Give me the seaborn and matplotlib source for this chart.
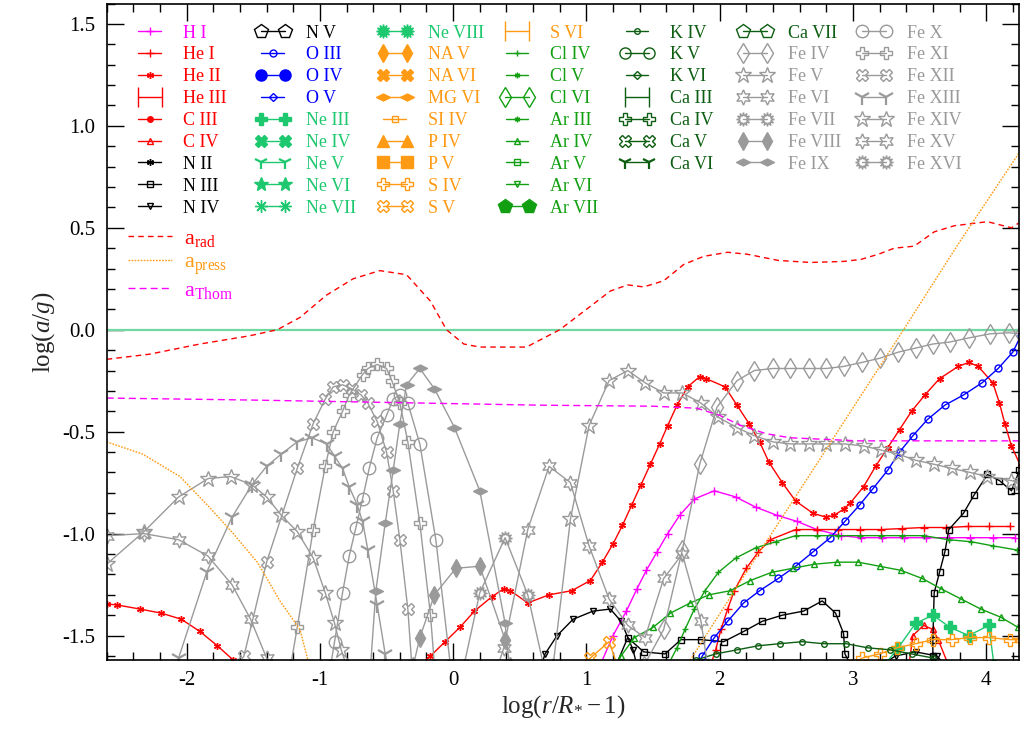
import numpy as np
import matplotlib
matplotlib.use("Agg")
import matplotlib.pyplot as plt
import seaborn as sns
from matplotlib.lines import Line2D
from matplotlib.legend_handler import HandlerLine2D
from matplotlib.ticker import MultipleLocator, FormatStrFormatter

# ---- data: (log(r/R*-1), log(a/g)) pairs ----
# values at -2.0 stand for the curve running below the frame
h1 = [(1.10, -1.65), (1.20, -1.50), (1.30, -1.38), (1.38, -1.27), (1.45, -1.18), (1.53, -1.09),
      (1.61, -1.00), (1.70, -0.91), (1.81, -0.83), (1.96, -0.79), (2.12, -0.82), (2.27, -0.87),
      (2.43, -0.91), (2.58, -0.94), (2.73, -0.98), (2.91, -1.01), (3.06, -1.02), (3.22, -1.02),
      (3.38, -1.02), (3.55, -1.02), (3.72, -1.02), (3.88, -1.02), (4.05, -1.02), (4.22, -1.02)]
he1 = [(1.93, -1.65), (1.97, -1.57), (2.01, -1.47), (2.06, -1.37), (2.11, -1.28), (2.20, -1.17),
       (2.29, -1.09), (2.38, -1.03), (2.57, -0.98), (2.73, -0.98), (2.89, -0.98), (3.05, -0.98),
       (3.21, -0.98), (3.37, -0.975), (3.53, -0.97), (3.70, -0.97), (3.86, -0.965), (4.02, -0.965),
       (4.18, -0.965)]
he2 = [(-2.60, -1.345), (-2.52, -1.35), (-2.35, -1.37), (-2.19, -1.39), (-2.04, -1.42), (-1.90, -1.48),
       (-1.77, -1.55), (-1.65, -1.62), (-0.90, -2.0), (-0.17, -1.60), (-0.06, -1.53), (0.05, -1.46),
       (0.16, -1.38), (0.29, -1.31), (0.38, -1.27), (0.43, -1.28), (0.56, -1.34), (0.72, -1.30),
       (0.89, -1.28), (1.03, -1.23), (1.12, -1.14), (1.20, -1.05), (1.27, -0.96), (1.34, -0.86),
       (1.41, -0.76), (1.48, -0.66), (1.55, -0.56), (1.61, -0.47), (1.68, -0.37), (1.76, -0.28),
       (1.85, -0.23), (1.90, -0.24), (2.04, -0.28), (2.13, -0.37), (2.22, -0.46), (2.30, -0.55),
       (2.37, -0.65), (2.47, -0.75), (2.57, -0.84), (2.70, -0.90), (2.80, -0.92), (2.86, -0.91),
       (2.93, -0.88), (2.98, -0.85), (3.08, -0.77), (3.17, -0.67), (3.26, -0.58), (3.35, -0.49),
       (3.44, -0.40), (3.54, -0.32), (3.65, -0.24), (3.79, -0.18), (3.87, -0.16), (3.94, -0.18),
       (4.05, -0.26), (4.10, -0.36), (4.14, -0.46), (4.19, -0.57), (4.26, -0.67)]
c4 = [(3.42, -1.65), (3.45, -1.50), (3.53, -1.45), (3.60, -1.47), (3.64, -1.52), (3.72, -1.65)]
n3 = [(1.22, -1.65), (1.31, -1.51), (1.43, -1.58), (1.59, -1.59), (1.71, -1.52), (1.86, -1.52),
      (2.03, -1.53), (2.18, -1.48), (2.32, -1.43), (2.47, -1.40), (2.63, -1.38), (2.77, -1.33),
      (2.87, -1.39), (2.93, -1.49), (2.94, -1.59), (3.27, -2.0), (3.60, -1.60), (3.60, -1.52),
      (3.61, -1.29), (3.65, -1.19), (3.69, -1.09), (3.72, -0.98), (3.83, -0.90), (3.91, -0.81),
      (4.01, -0.71), (4.10, -0.74), (4.19, -0.79), (4.25, -0.69)]
n4 = [(0.66, -1.65), (0.69, -1.59), (0.78, -1.50), (0.90, -1.42), (1.05, -1.38), (1.18, -1.37),
      (1.26, -1.43), (1.35, -1.57), (1.38, -1.65), (2.30, -2.0), (3.20, -1.65), (3.32, -1.60),
      (3.47, -1.58), (3.63, -1.60), (3.70, -1.65)]
o3 = [(1.83, -1.65), (1.87, -1.60), (1.96, -1.51), (2.06, -1.43), (2.18, -1.34), (2.30, -1.28),
      (2.44, -1.22), (2.57, -1.16), (2.70, -1.09), (2.83, -1.02), (2.94, -0.94), (3.05, -0.86),
      (3.15, -0.78), (3.26, -0.69), (3.35, -0.60), (3.45, -0.52), (3.56, -0.44), (3.69, -0.37),
      (3.83, -0.32), (3.97, -0.26), (4.09, -0.19), (4.20, -0.11), (4.26, -0.03)]
ne3 = [(3.23, -1.65), (3.34, -1.56), (3.47, -1.44), (3.60, -1.40), (3.73, -1.46), (3.87, -1.50),
       (4.02, -1.45), (4.06, -1.65)]
s4 = [(2.98, -1.65), (3.07, -1.61), (3.20, -1.59), (3.33, -1.56), (3.47, -1.54), (3.60, -1.52),
      (3.74, -1.52), (3.88, -1.51), (4.02, -1.51), (4.18, -1.52), (4.26, -1.52)]
s5 = [(0.93, -1.66), (1.03, -1.61), (1.17, -1.53), (1.24, -1.66)]
cl4 = [(1.60, -1.66), (1.68, -1.56), (1.74, -1.47), (1.81, -1.37), (1.89, -1.28), (1.99, -1.19),
       (2.12, -1.12), (2.27, -1.07), (2.42, -1.04), (2.57, -1.01), (2.73, -1.01), (2.89, -1.01),
       (3.05, -1.01), (3.21, -1.01), (3.37, -1.01), (3.53, -1.01), (3.72, -1.03), (3.89, -1.04),
       (4.05, -1.06), (4.23, -1.08)]
ar4 = [(1.22, -1.65), (1.26, -1.60), (1.36, -1.51), (1.50, -1.46), (1.63, -1.39), (1.78, -1.34),
       (1.92, -1.30), (2.08, -1.28), (2.23, -1.23), (2.39, -1.19), (2.55, -1.17), (2.71, -1.15),
       (2.88, -1.14), (3.04, -1.14), (3.20, -1.16), (3.36, -1.18), (3.52, -1.22), (3.66, -1.27),
       (3.81, -1.32), (3.96, -1.37), (4.11, -1.41), (4.24, -1.46)]
k4 = [(1.78, -1.64), (1.82, -1.62), (1.97, -1.59), (2.13, -1.57), (2.29, -1.55), (2.45, -1.54),
      (2.62, -1.53), (2.78, -1.54), (2.95, -1.54), (3.11, -1.56), (3.28, -1.57), (3.44, -1.59),
      (3.60, -1.61), (3.70, -1.64)]
fe4 = [(1.43, -1.65), (1.58, -1.47), (1.72, -1.08), (1.85, -0.66), (1.98, -0.38), (2.13, -0.25),
       (2.26, -0.20), (2.40, -0.19), (2.53, -0.19), (2.67, -0.19), (2.80, -0.19), (2.93, -0.18),
       (3.07, -0.16), (3.20, -0.14), (3.34, -0.11), (3.47, -0.09), (3.60, -0.07), (3.73, -0.06),
       (3.87, -0.04), (4.03, -0.02), (4.17, -0.015), (4.26, -0.02)]
fe5 = [(0.75, -1.65), (0.88, -0.93), (1.02, -0.47), (1.17, -0.25), (1.31, -0.20), (1.44, -0.26),
       (1.58, -0.31), (1.72, -0.31), (1.86, -0.36), (1.99, -0.43), (2.13, -0.48), (2.26, -0.52),
       (2.40, -0.55), (2.53, -0.56), (2.67, -0.56), (2.80, -0.56), (2.94, -0.56), (3.08, -0.57),
       (3.21, -0.59), (3.34, -0.61), (3.47, -0.64), (3.61, -0.66), (3.74, -0.68), (3.88, -0.70),
       (4.01, -0.72), (4.19, -0.74), (4.26, -0.75)]
fe6 = [(0.33, -1.66), (0.38, -1.56), (0.56, -0.98), (0.72, -0.67), (0.88, -0.75), (1.02, -1.06),
       (1.17, -1.32), (1.31, -1.45), (1.44, -1.51), (1.58, -1.22), (1.72, -1.10), (1.86, -1.43),
       (1.91, -1.65)]
fe7 = [(0.08, -1.65), (0.20, -1.29), (0.39, -1.02), (0.56, -1.30), (0.68, -1.65)]
fe8 = [(-0.30, -1.65), (-0.25, -1.51), (-0.14, -1.30), (0.02, -1.17), (0.20, -1.16), (0.39, -1.52),
       (0.43, -1.65)]
fe9 = [(-0.62, -1.65), (-0.58, -1.28), (-0.51, -0.95), (-0.45, -0.69), (-0.40, -0.46), (-0.35, -0.27),
       (-0.25, -0.19), (-0.14, -0.29), (0.01, -0.48), (0.20, -0.79), (0.39, -1.44), (0.42, -1.65)]
fe10 = [(-0.92, -1.65), (-0.89, -1.53), (-0.83, -1.29), (-0.78, -1.11), (-0.73, -0.97), (-0.68, -0.83),
        (-0.63, -0.68), (-0.57, -0.53), (-0.50, -0.42), (-0.45, -0.34), (-0.40, -0.32), (-0.34, -0.36),
        (-0.25, -0.56), (-0.13, -1.03), (-0.02, -1.65)]
fe11 = [(-1.22, -1.65), (-1.17, -1.46), (-1.05, -0.98), (-0.96, -0.67), (-0.90, -0.50), (-0.83, -0.40),
        (-0.78, -0.32), (-0.68, -0.22), (-0.64, -0.19), (-0.57, -0.17), (-0.50, -0.19), (-0.46, -0.25),
        (-0.40, -0.36), (-0.34, -0.55), (-0.25, -0.95), (-0.17, -1.40), (-0.14, -1.65)]
fe12 = [(-1.62, -1.65), (-1.57, -1.60), (-1.40, -1.14), (-1.17, -0.68), (-1.05, -0.46), (-0.96, -0.34),
        (-0.90, -0.28), (-0.83, -0.27), (-0.76, -0.29), (-0.69, -0.32), (-0.64, -0.36), (-0.57, -0.45),
        (-0.50, -0.60), (-0.45, -0.79), (-0.40, -1.03), (-0.34, -1.37), (-0.31, -1.65)]
fe13 = [(-2.10, -1.65), (-2.06, -1.61), (-1.85, -1.19), (-1.66, -0.92), (-1.51, -0.76), (-1.40, -0.67),
        (-1.29, -0.61), (-1.17, -0.55), (-1.06, -0.53), (-0.95, -0.56), (-0.89, -0.62), (-0.83, -0.68),
        (-0.78, -0.77), (-0.72, -0.86), (-0.68, -0.94), (-0.64, -1.08), (-0.57, -1.35), (-0.51, -1.59),
        (-0.49, -1.65)]
fe14 = [(-2.60, -1.15), (-2.32, -0.99), (-2.06, -0.82), (-1.84, -0.73), (-1.67, -0.72), (-1.51, -0.76),
        (-1.40, -0.82), (-1.29, -0.91), (-1.17, -0.99), (-1.05, -1.12), (-0.96, -1.29), (-0.89, -1.44),
        (-0.84, -1.57), (-0.80, -1.65)]
fe15 = [(-2.60, -1.01), (-2.32, -1.00), (-2.06, -1.03), (-1.84, -1.11), (-1.66, -1.25), (-1.52, -1.42),
        (-1.40, -1.61), (-1.37, -1.65)]

a_rad = [(-2.60, -0.145), (-2.28, -0.12), (-1.90, -0.07), (-1.53, -0.03), (-1.32, 0.0), (-1.15, 0.06),
         (-0.95, 0.17), (-0.75, 0.25), (-0.55, 0.29), (-0.35, 0.27), (-0.17, 0.14), (-0.05, 0.0),
         (0.08, -0.07), (0.20, -0.085), (0.55, -0.085), (0.80, 0.0), (1.00, 0.10), (1.18, 0.19),
         (1.31, 0.22), (1.43, 0.21), (1.58, 0.24), (1.73, 0.32), (1.88, 0.36), (2.06, 0.38),
         (2.21, 0.37), (2.44, 0.34), (2.68, 0.33), (2.93, 0.335), (3.06, 0.345), (3.19, 0.37),
         (3.31, 0.40), (3.46, 0.41), (3.61, 0.48), (3.76, 0.51), (4.01, 0.53), (4.19, 0.50), (4.26, 0.53)]
a_press = [(-2.60, -0.55), (-2.33, -0.61), (-2.05, -0.72), (-1.83, -0.87), (-1.65, -1.0), (-1.47, -1.14),
           (-1.30, -1.33), (-1.15, -1.47), (-1.09, -1.62), (-1.00, -2.0), (1.60, -2.0), (1.78, -1.62),
           (2.15, -1.24), (2.41, -0.98), (3.38, 0.0), (3.80, 0.43), (4.26, 0.88)]
a_thom = [(-2.60, -0.335), (-1.50, -0.345), (-0.20, -0.36), (0.65, -0.37), (1.50, -0.375), (1.83, -0.385),
          (2.00, -0.42), (2.16, -0.47), (2.35, -0.51), (2.53, -0.53), (3.04, -0.545), (4.26, -0.545)]

# ---- styles ----
RED, MAG, BLK, BLU = "#ff0000", "#ff00ff", "#000000", "#0000ff"
NE, ORG, CLA, KCA, FE = "#1ec86e", "#ff9a14", "#12a012", "#0d5e12", "#9a9a9a"
wide_d = [(-1, 0), (0, 0.5), (1, 0), (0, -0.5), (-1, 0)]
ast = (6, 2, 0)

# name: (color, marker, size, filled, small)
ions = {
    "H I": (MAG, "+", 6, True, True), "He I": (RED, "+", 6, True, True),
    "He II": (RED, ast, 5, True, True), "He III": (RED, "|", 15, True, False),
    "C III": (RED, "o", 4, True, True), "C IV": (RED, "^", 5, False, True),
    "N II": (BLK, ast, 5, True, True), "N III": (BLK, "s", 5, False, True),
    "N IV": (BLK, "v", 5, False, True), "N V": (BLK, "p", 10, False, False),
    "O III": (BLU, "o", 5, False, True), "O IV": (BLU, "o", 8, True, False),
    "O V": (BLU, "D", 4, False, True), "Ne III": (NE, "P", 8, True, False),
    "Ne IV": (NE, "X", 8, True, False), "Ne V": (NE, "1", 10, True, False),
    "Ne VI": (NE, "*", 10, True, False), "Ne VII": (NE, (8, 2, 0), 9, True, False),
    "Ne VIII": (NE, (12, 1, 0), 10, True, False), "NA V": (ORG, "d", 9, True, False),
    "NA VI": (ORG, "X", 8, True, False), "MG VI": (ORG, wide_d, 10, True, False),
    "SI IV": (ORG, "s", 4, False, True), "P IV": (ORG, "^", 8, True, False),
    "P V": (ORG, "s", 8, True, False), "S IV": (ORG, "P", 9, False, False),
    "S V": (ORG, "X", 9, False, False), "S VI": (ORG, "|", 15, True, False),
    "Cl IV": (CLA, "+", 5, True, True), "Cl V": (CLA, ast, 4, True, True),
    "Cl VI": (CLA, "d", 10, False, False), "Ar III": (CLA, ast, 4, True, True),
    "Ar IV": (CLA, "^", 5, False, True), "Ar V": (CLA, "s", 4, False, True),
    "Ar VI": (CLA, "v", 4, False, True), "Ar VII": (CLA, "p", 10, True, False),
    "K IV": (KCA, "o", 4, False, True), "K V": (KCA, "o", 8, False, False),
    "K VI": (KCA, "D", 4, False, True), "Ca III": (KCA, "|", 15, True, False),
    "Ca IV": (KCA, "P", 8, False, False), "Ca V": (KCA, "X", 8, False, False),
    "Ca VI": (KCA, "1", 10, True, False), "Ca VII": (KCA, "p", 10, False, False),
    "Fe IV": (FE, "d", 10, False, False), "Fe V": (FE, "*", 12, False, False),
    "Fe VI": (FE, (6, 1, 0), 11, False, False), "Fe VII": (FE, (12, 1, 0), 10, False, False),
    "Fe VIII": (FE, "d", 9, True, False), "Fe IX": (FE, wide_d, 10, True, False),
    "Fe X": (FE, "o", 9, False, False), "Fe XI": (FE, "P", 9, False, False),
    "Fe XII": (FE, "X", 9, False, False), "Fe XIII": (FE, "1", 12, True, False),
    "Fe XIV": (FE, "*", 12, False, False), "Fe XV": (FE, (6, 1, 0), 11, False, False),
    "Fe XVI": (FE, (12, 1, 0), 10, False, False),
}
columns = [
    ["H I", "He I", "He II", "He III", "C III", "C IV", "N II", "N III", "N IV"],
    ["N V", "O III", "O IV", "O V", "Ne III", "Ne IV", "Ne V", "Ne VI", "Ne VII"],
    ["Ne VIII", "NA V", "NA VI", "MG VI", "SI IV", "P IV", "P V", "S IV", "S V"],
    ["S VI", "Cl IV", "Cl V", "Cl VI", "Ar III", "Ar IV", "Ar V", "Ar VI", "Ar VII"],
    ["K IV", "K V", "K VI", "Ca III", "Ca IV", "Ca V", "Ca VI"],
    ["Ca VII", "Fe IV", "Fe V", "Fe VI", "Fe VII", "Fe VIII", "Fe IX"],
    ["Fe X", "Fe XI", "Fe XII", "Fe XIII", "Fe XIV", "Fe XV", "Fe XVI"],
]
curves = {"H I": h1, "He I": he1, "He II": he2, "C IV": c4, "N III": n3, "N IV": n4,
          "O III": o3, "Ne III": ne3, "S IV": s4, "S V": s5, "Cl IV": cl4, "Ar IV": ar4,
          "K IV": k4, "Fe IV": fe4, "Fe V": fe5, "Fe VI": fe6, "Fe VII": fe7, "Fe VIII": fe8,
          "Fe IX": fe9, "Fe X": fe10, "Fe XI": fe11, "Fe XII": fe12, "Fe XIII": fe13,
          "Fe XIV": fe14, "Fe XV": fe15}

sns.set_style("ticks")
plt.rcParams["font.family"] = ["Liberation Serif", "DejaVu Serif"]
plt.rcParams["mathtext.fontset"] = "custom"
plt.rcParams["mathtext.rm"] = "Liberation Serif"
plt.rcParams["mathtext.it"] = "Liberation Serif:italic"
plt.rcParams["axes.unicode_minus"] = False


def style_kw(name):
    col, mk, ms, filled, small = ions[name]
    return dict(color=col, marker=mk, markersize=ms, markeredgecolor=col,
                markerfacecolor=col if filled else "none",
                markeredgewidth=1.6 if mk == "1" else 1.0, linewidth=1.0)


fig = plt.figure(figsize=(10.21, 7.35), dpi=100)
ax = fig.add_axes([0.1045, 0.102, 0.894, 0.8932])

ax.axhline(0, color="#70d8a0", lw=1.6, zorder=1)
for name, pts in curves.items():
    xs, ys = zip(*pts)
    sns.lineplot(x=list(xs), y=list(ys), ax=ax, sort=False, estimator=None, **style_kw(name))

for pts, col, ls in [(a_rad, RED, (0, (4, 3))), (a_press, ORG, (0, (1.2, 1))), (a_thom, MAG, (0, (5, 3)))]:
    xs, ys = zip(*pts)
    sns.lineplot(x=list(xs), y=list(ys), ax=ax, sort=False, estimator=None,
                 color=col, linestyle=ls, linewidth=1.0)

ax.set_xlim(-2.60, 4.25)
ax.set_ylim(-1.62, 1.60)
ax.xaxis.set_major_locator(MultipleLocator(1))
ax.xaxis.set_minor_locator(MultipleLocator(0.2))
ax.yaxis.set_major_locator(MultipleLocator(0.5))
ax.yaxis.set_minor_locator(MultipleLocator(0.1))
ax.xaxis.set_major_formatter(FormatStrFormatter("%d"))
ax.yaxis.set_major_formatter(FormatStrFormatter("%.1f"))
ax.tick_params(which="both", direction="in", top=True, right=True, colors="black", labelsize=15)
ax.tick_params(which="major", length=12, width=1.0)
ax.tick_params(which="minor", length=6, width=1.0)
ax.tick_params(axis="y", pad=8)
ax.tick_params(axis="x", pad=8)
for sp in ax.spines.values():
    sp.set_color("black")
    sp.set_linewidth(1.2)
ax.set_xlabel("log($r/R_{*} - 1$)", fontsize=18, labelpad=2)
ax.set_ylabel("log($a/g$)", fontsize=18, labelpad=4)


class ShortHandler(HandlerLine2D):
    def get_xdata(self, legend, xdescent, ydescent, width, height, fontsize):
        xd = np.array([-xdescent + width * 0.24, -xdescent + width * 0.76])
        return xd, np.array([-xdescent + width * 0.5])


col_x = [0.0233, 0.158, 0.2917, 0.4254, 0.5569, 0.6861, 0.8165]
for cx, names in zip(col_x, columns):
    handles, hmap = [], {}
    for n in names:
        h = Line2D([], [], **style_kw(n))
        handles.append(h)
        hmap[h] = ShortHandler(numpoints=1) if ions[n][4] else HandlerLine2D(numpoints=2, marker_pad=0.55)
    leg = ax.legend(handles, names, loc="upper left", bbox_to_anchor=(cx, 0.968), frameon=False,
                    fontsize=13, handlelength=2.43, handletextpad=0.6, labelspacing=0.27,
                    borderpad=0, borderaxespad=0, handler_map=hmap)
    for t, n in zip(leg.get_texts(), names):
        t.set_color(ions[n][0])
    ax.add_artist(leg)

acc_h = [Line2D([], [], color=RED, ls=(0, (4, 3)), lw=1.0),
         Line2D([], [], color=ORG, ls=(0, (1.2, 1)), lw=1.0),
         Line2D([], [], color=MAG, ls=(0, (5, 3)), lw=1.0)]
acc_l = ["a$_\\mathrm{rad}$", "a$_\\mathrm{press}$", "a$_\\mathrm{Thom}$"]
leg2 = ax.legend(acc_h, acc_l, loc="upper left", bbox_to_anchor=(0.0233, 0.657), frameon=False,
                 fontsize=16, handlelength=2.0, handletextpad=0.5, labelspacing=0.15,
                 borderpad=0, borderaxespad=0)
for t, c in zip(leg2.get_texts(), [RED, ORG, MAG]):
    t.set_color(c)

fig.savefig("out.png", dpi=100)
